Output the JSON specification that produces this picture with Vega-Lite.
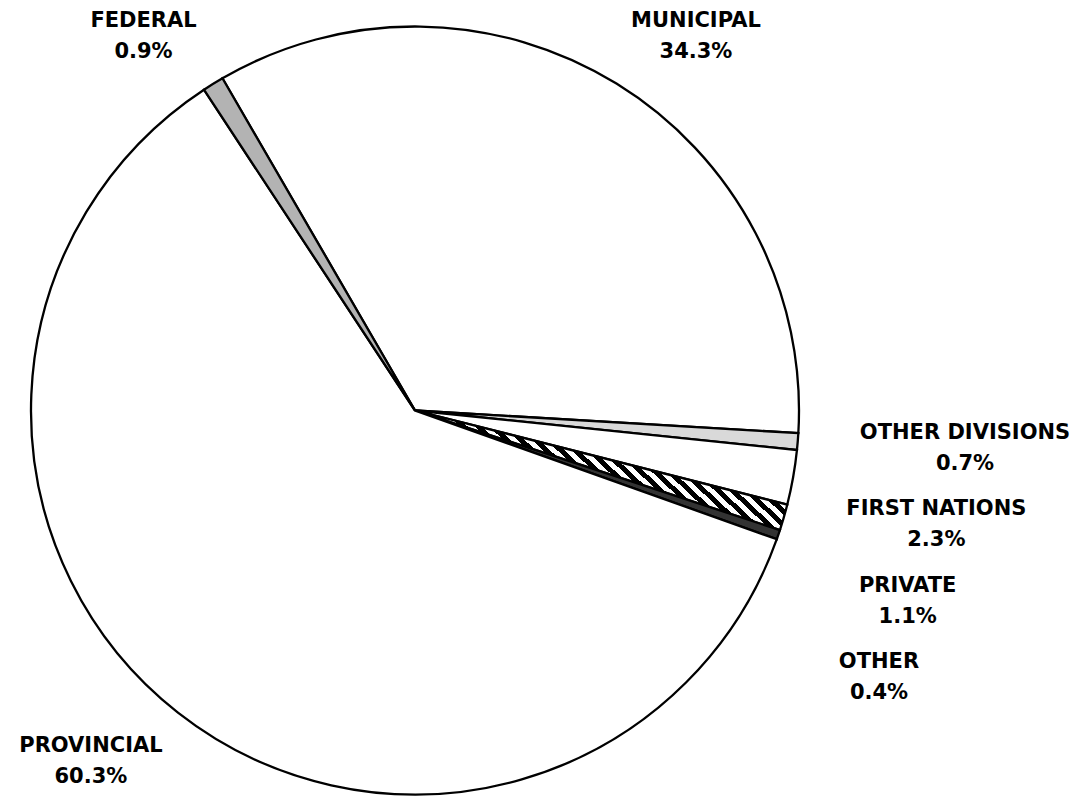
{
  "$schema": "https://vega.github.io/schema/vega-lite/v6.json",
  "autosize": {"type": "none"},
  "width": 830,
  "height": 773,
  "padding": {"left": 0, "top": 24, "right": 252, "bottom": 0},
  "background": "white",
  "config": {"view": {"stroke": null}},
  "data": {
    "values": [
      {"category": "MUNICIPAL", "value": 34.3, "order": 1},
      {"category": "OTHER DIVISIONS", "value": 0.7, "order": 2},
      {"category": "FIRST NATIONS", "value": 2.3, "order": 3},
      {"category": "PRIVATE", "value": 1.1, "order": 4},
      {"category": "OTHER", "value": 0.4, "order": 5},
      {"category": "PROVINCIAL", "value": 60.3, "order": 6},
      {"category": "FEDERAL", "value": 0.9, "order": 7}
    ]
  },
  "transform": [
    {"calculate": "datum.category + '\\n' + format(datum.value, '.1f') + '%'", "as": "label"}
  ],
  "layer": [
    {
      "mark": {"type": "arc", "outerRadius": 384, "stroke": "black", "strokeWidth": 2.3},
      "encoding": {
        "theta": {"field": "value", "type": "quantitative", "stack": true, "scale": {"range": [-0.5253, 5.7579]}},
        "order": {"field": "order", "type": "quantitative"},
        "fill": {
          "field": "category", "type": "nominal", "legend": null,
          "scale": {
            "domain": ["MUNICIPAL", "OTHER DIVISIONS", "FIRST NATIONS", "PRIVATE", "OTHER", "PROVINCIAL", "FEDERAL"],
            "range": ["#ffffff", "#d9d9d9", "#ffffff", "#8c8c8c", "#333333", "#ffffff", "#b3b3b3"]
          },
          "condition": {
            "test": "datum.category === 'PRIVATE'",
            "value": {
              "gradient": "linear", "x1": 0, "y1": 0.341, "x2": 1, "y2": 0,
              "stops": [
                {"offset": 0, "color": "black"}, {"offset": 0.0172, "color": "black"}, {"offset": 0.0172, "color": "white"}, {"offset": 0.0345, "color": "white"},
                {"offset": 0.0345, "color": "black"}, {"offset": 0.0517, "color": "black"}, {"offset": 0.0517, "color": "white"}, {"offset": 0.0690, "color": "white"},
                {"offset": 0.0690, "color": "black"}, {"offset": 0.0862, "color": "black"}, {"offset": 0.0862, "color": "white"}, {"offset": 0.1034, "color": "white"},
                {"offset": 0.1034, "color": "black"}, {"offset": 0.1207, "color": "black"}, {"offset": 0.1207, "color": "white"}, {"offset": 0.1379, "color": "white"},
                {"offset": 0.1379, "color": "black"}, {"offset": 0.1552, "color": "black"}, {"offset": 0.1552, "color": "white"}, {"offset": 0.1724, "color": "white"},
                {"offset": 0.1724, "color": "black"}, {"offset": 0.1897, "color": "black"}, {"offset": 0.1897, "color": "white"}, {"offset": 0.2069, "color": "white"},
                {"offset": 0.2069, "color": "black"}, {"offset": 0.2241, "color": "black"}, {"offset": 0.2241, "color": "white"}, {"offset": 0.2414, "color": "white"},
                {"offset": 0.2414, "color": "black"}, {"offset": 0.2586, "color": "black"}, {"offset": 0.2586, "color": "white"}, {"offset": 0.2759, "color": "white"},
                {"offset": 0.2759, "color": "black"}, {"offset": 0.2931, "color": "black"}, {"offset": 0.2931, "color": "white"}, {"offset": 0.3103, "color": "white"},
                {"offset": 0.3103, "color": "black"}, {"offset": 0.3276, "color": "black"}, {"offset": 0.3276, "color": "white"}, {"offset": 0.3448, "color": "white"},
                {"offset": 0.3448, "color": "black"}, {"offset": 0.3621, "color": "black"}, {"offset": 0.3621, "color": "white"}, {"offset": 0.3793, "color": "white"},
                {"offset": 0.3793, "color": "black"}, {"offset": 0.3966, "color": "black"}, {"offset": 0.3966, "color": "white"}, {"offset": 0.4138, "color": "white"},
                {"offset": 0.4138, "color": "black"}, {"offset": 0.4310, "color": "black"}, {"offset": 0.4310, "color": "white"}, {"offset": 0.4483, "color": "white"},
                {"offset": 0.4483, "color": "black"}, {"offset": 0.4655, "color": "black"}, {"offset": 0.4655, "color": "white"}, {"offset": 0.4828, "color": "white"},
                {"offset": 0.4828, "color": "black"}, {"offset": 0.5000, "color": "black"}, {"offset": 0.5000, "color": "white"}, {"offset": 0.5172, "color": "white"},
                {"offset": 0.5172, "color": "black"}, {"offset": 0.5345, "color": "black"}, {"offset": 0.5345, "color": "white"}, {"offset": 0.5517, "color": "white"},
                {"offset": 0.5517, "color": "black"}, {"offset": 0.5690, "color": "black"}, {"offset": 0.5690, "color": "white"}, {"offset": 0.5862, "color": "white"},
                {"offset": 0.5862, "color": "black"}, {"offset": 0.6034, "color": "black"}, {"offset": 0.6034, "color": "white"}, {"offset": 0.6207, "color": "white"},
                {"offset": 0.6207, "color": "black"}, {"offset": 0.6379, "color": "black"}, {"offset": 0.6379, "color": "white"}, {"offset": 0.6552, "color": "white"},
                {"offset": 0.6552, "color": "black"}, {"offset": 0.6724, "color": "black"}, {"offset": 0.6724, "color": "white"}, {"offset": 0.6897, "color": "white"},
                {"offset": 0.6897, "color": "black"}, {"offset": 0.7069, "color": "black"}, {"offset": 0.7069, "color": "white"}, {"offset": 0.7241, "color": "white"},
                {"offset": 0.7241, "color": "black"}, {"offset": 0.7414, "color": "black"}, {"offset": 0.7414, "color": "white"}, {"offset": 0.7586, "color": "white"},
                {"offset": 0.7586, "color": "black"}, {"offset": 0.7759, "color": "black"}, {"offset": 0.7759, "color": "white"}, {"offset": 0.7931, "color": "white"},
                {"offset": 0.7931, "color": "black"}, {"offset": 0.8103, "color": "black"}, {"offset": 0.8103, "color": "white"}, {"offset": 0.8276, "color": "white"},
                {"offset": 0.8276, "color": "black"}, {"offset": 0.8448, "color": "black"}, {"offset": 0.8448, "color": "white"}, {"offset": 0.8621, "color": "white"},
                {"offset": 0.8621, "color": "black"}, {"offset": 0.8793, "color": "black"}, {"offset": 0.8793, "color": "white"}, {"offset": 0.8966, "color": "white"},
                {"offset": 0.8966, "color": "black"}, {"offset": 0.9138, "color": "black"}, {"offset": 0.9138, "color": "white"}, {"offset": 0.9310, "color": "white"},
                {"offset": 0.9310, "color": "black"}, {"offset": 0.9483, "color": "black"}, {"offset": 0.9483, "color": "white"}, {"offset": 0.9655, "color": "white"},
                {"offset": 0.9655, "color": "black"}, {"offset": 0.9828, "color": "black"}, {"offset": 0.9828, "color": "white"}, {"offset": 1, "color": "white"}
              ]
            }
          }
        }
      }
    },
    {
      "mark": {"type": "text", "radius": 465, "dx": -27, "dy": 6.5, "font": "DejaVu Sans", "fontWeight": "bold", "fontSize": 21, "lineHeight": 31, "lineBreak": "\n", "align": "center", "baseline": "middle", "fill": "black"},
      "encoding": {
        "theta": {"field": "value", "type": "quantitative", "stack": true},
        "order": {"field": "order", "type": "quantitative"},
        "detail": {"field": "category", "type": "nominal"},
        "text": {"condition": {"test": "datum.category === 'FEDERAL'", "field": "label", "type": "nominal"}, "value": ""}
      }
    },
    {
      "mark": {"type": "text", "radius": 465, "dx": 37, "dy": 6.5, "font": "DejaVu Sans", "fontWeight": "bold", "fontSize": 21, "lineHeight": 31, "lineBreak": "\n", "align": "center", "baseline": "middle", "fill": "black"},
      "encoding": {
        "theta": {"field": "value", "type": "quantitative", "stack": true},
        "order": {"field": "order", "type": "quantitative"},
        "detail": {"field": "category", "type": "nominal"},
        "text": {"condition": {"test": "datum.category === 'MUNICIPAL'", "field": "label", "type": "nominal"}, "value": ""}
      }
    },
    {
      "mark": {"type": "text", "radius": 465, "dx": -37, "dy": -30.5, "font": "DejaVu Sans", "fontWeight": "bold", "fontSize": 21, "lineHeight": 31, "lineBreak": "\n", "align": "center", "baseline": "middle", "fill": "black"},
      "encoding": {
        "theta": {"field": "value", "type": "quantitative", "stack": true},
        "order": {"field": "order", "type": "quantitative"},
        "detail": {"field": "category", "type": "nominal"},
        "text": {"condition": {"test": "datum.category === 'PROVINCIAL'", "field": "label", "type": "nominal"}, "value": ""}
      }
    },
    {
      "transform": [
        {"filter": {"field": "category", "oneOf": ["OTHER DIVISIONS", "FIRST NATIONS", "PRIVATE", "OTHER"]}}
      ],
      "mark": {"type": "text", "font": "DejaVu Sans", "fontWeight": "bold", "fontSize": 21, "lineHeight": 31, "lineBreak": "\n", "align": "center", "baseline": "middle", "fill": "black"},
      "encoding": {
        "x": {"field": "category", "type": "nominal", "axis": null,
              "scale": {"type": "point", "padding": 0, "domain": ["OTHER DIVISIONS", "FIRST NATIONS", "PRIVATE", "OTHER"], "range": [965, 879]}},
        "y": {"field": "category", "type": "nominal", "axis": null,
              "scale": {"type": "point", "padding": 0, "domain": ["OTHER DIVISIONS", "FIRST NATIONS", "PRIVATE", "OTHER"], "range": [409, 638]}},
        "text": {"field": "label", "type": "nominal"}
      }
    }
  ]
}
